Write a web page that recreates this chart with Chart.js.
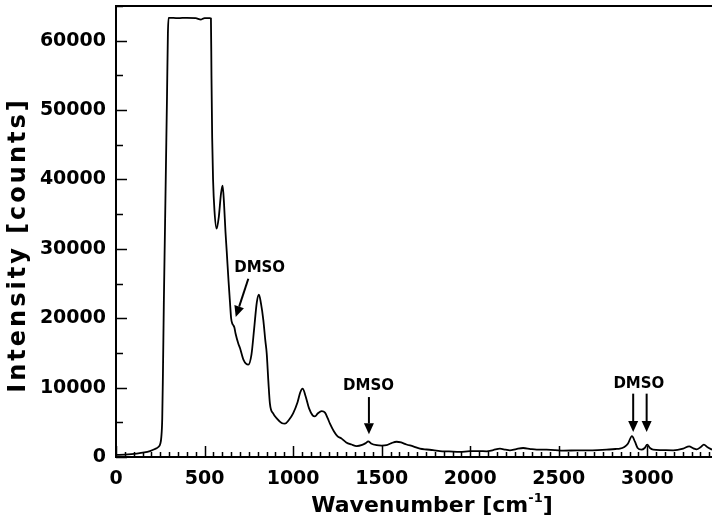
<!DOCTYPE html>
<html>
<head>
<meta charset="utf-8">
<script src="https://cdn.jsdelivr.net/npm/chart.js@4"></script>
<style>
  body { margin: 0; background: #fff; overflow: hidden; }
  canvas { display: block; }
</style>
</head>
<body>
<canvas id="spectrum" width="712" height="521"></canvas>
<script>
// Raman spectrum: wavenumber (cm-1) vs intensity (counts)
const wavenumber = [
  0, 50, 117, 160, 192, 220, 239, 250, 256, 261, 265, 270, 276, 282, 288, 293, 297,
  350, 400, 450, 480, 500, 530, 536, 539, 543, 548, 556, 568, 580, 593, 602, 610,
  618, 625, 635, 643, 650, 657, 662, 668, 675, 690, 700, 720, 747, 765, 780, 795,
  807, 818, 832, 843, 851, 860, 869, 888, 910, 935, 954, 975, 1000, 1025, 1040,
  1054, 1070, 1090, 1110, 1123, 1140, 1161, 1180, 1195, 1208, 1230, 1250, 1274,
  1300, 1330, 1359, 1390, 1410, 1424, 1440, 1472, 1500, 1528, 1555, 1584, 1610,
  1640, 1678, 1716, 1754, 1790, 1829, 1880, 1942, 1998, 2050, 2092, 2130, 2168,
  2200, 2224, 2260, 2299, 2340, 2375, 2431, 2480, 2525, 2600, 2657, 2720, 2770,
  2820, 2845, 2870, 2890, 2913, 2930, 2945, 2967, 2985, 2999, 3015, 3033, 3080,
  3146, 3202, 3236, 3260, 3278, 3300, 3319, 3340, 3365
];
const intensity = [
  300, 350, 490, 650, 860, 1150, 1440, 1900, 2900, 5500, 12000, 22000, 32000, 42000, 52000, 61000, 63300,
  63250, 63300, 63250, 63050, 63250, 63250, 63200, 55000, 46000, 40000, 35500, 32900, 34500, 38000, 39100, 36500,
  32500, 29700, 25500, 22500, 20000, 19200, 19000, 18700, 17800, 16400, 15700, 14000, 13300, 14800, 18500, 22300,
  23400, 22200, 19700, 16800, 14900, 11000, 7700, 6250, 5500, 4900, 4800, 5300, 6300, 7900, 9300,
  9850, 8800, 7000, 6000, 5860, 6300, 6600, 6400, 5600, 4800, 3700, 3000, 2650,
  2100, 1800, 1580, 1750, 2000, 2260, 1950, 1700, 1650, 1700, 2000, 2200, 2100,
  1800, 1540, 1200, 1080, 1000, 850, 800, 730, 850, 850, 820, 1000, 1200,
  1050, 960, 1150, 1300, 1150, 1060, 1050, 1000, 920, 950, 960, 1000, 1060,
  1150, 1200, 1450, 1900, 3000, 2200, 1300, 1060, 1300, 1790, 1300, 1060, 1000,
  960, 1200, 1540, 1250, 1100, 1400, 1790, 1400, 1060
];

// axis ranges and tick labels
const xMax = 3365;
const yMax = 65000;
const xTickValues = [0, 500, 1000, 1500, 2000, 2500, 3000];
const yTickValues = [0, 10000, 20000, 30000, 40000, 50000, 60000];
const xMajorStep = 500, xMinorStep = 50;
const yMajorStep = 10000, yMinorStep = 5000;

// DMSO band labels and arrows, in data coordinates
const dmsoLabels = [[811, 27250], [1426, 10250], [2952, 10540]];
const dmsoArrows = [
  [[747, 25690], [676, 20160]],
  [[1428, 8640], [1428, 3270]],
  [[2920, 9130], [2920, 3600]],
  [[2996, 9130], [2996, 3600]]
];

// inward tick marks, top border line, axis titles
const axisDecor = {
  id: 'axisDecor',
  afterDraw(chart) {
    const ctx = chart.ctx;
    const xs = chart.scales.x, ys = chart.scales.y;
    const area = chart.chartArea;
    ctx.save();
    ctx.strokeStyle = '#000';
    ctx.lineWidth = 1.5;
    ctx.beginPath();
    for (let v = 0; v <= xMax; v += xMinorStep) {
      const px = Math.round(xs.getPixelForValue(v)) + 0.5;
      const len = v % xMajorStep === 0 ? 11 : 5;
      ctx.moveTo(px, area.bottom);
      ctx.lineTo(px, area.bottom - len);
    }
    for (let v = 0; v <= yMax; v += yMinorStep) {
      const py = Math.round(ys.getPixelForValue(v)) + 0.5;
      const len = v % yMajorStep === 0 ? 11 : 7;
      ctx.moveTo(area.left, py);
      ctx.lineTo(area.left + len, py);
    }
    ctx.stroke();

    // top frame line
    ctx.lineWidth = 2;
    ctx.beginPath();
    ctx.moveTo(area.left, area.top);
    ctx.lineTo(area.right, area.top);
    ctx.stroke();

    ctx.fillStyle = '#000';

    // y axis title
    ctx.save();
    ctx.translate(19, 245);
    ctx.rotate(-Math.PI / 2);
    ctx.font = 'bold 24px "DejaVu Sans"';
    ctx.letterSpacing = '3px';
    ctx.textAlign = 'center';
    ctx.textBaseline = 'middle';
    ctx.fillText('Intensity [counts]', 0, 0);
    ctx.restore();

    // x axis title: Wavenumber [cm^-1]
    ctx.textBaseline = 'alphabetic';
    ctx.textAlign = 'left';
    const big = 'bold 22px "DejaVu Sans"';
    const small = 'bold 13px "DejaVu Sans"';
    const p1 = 'Wavenumber [cm', p2 = '-1', p3 = ']';
    ctx.font = big;
    const w1 = ctx.measureText(p1).width, w3 = ctx.measureText(p3).width;
    ctx.font = small;
    const w2 = ctx.measureText(p2).width;
    let tx = 432 - (w1 + w2 + w3) / 2;
    const ty = 512;
    ctx.font = big;
    ctx.fillText(p1, tx, ty);
    tx += w1;
    ctx.font = small;
    ctx.fillText(p2, tx, ty - 10);
    tx += w2;
    ctx.font = big;
    ctx.fillText(p3, tx, ty);
    ctx.restore();
  }
};

// DMSO annotations
const dmsoMarks = {
  id: 'dmsoMarks',
  afterDatasetsDraw(chart) {
    const ctx = chart.ctx;
    const xs = chart.scales.x, ys = chart.scales.y;
    ctx.save();
    ctx.fillStyle = '#000';
    ctx.strokeStyle = '#000';
    ctx.font = 'bold 15px "DejaVu Sans"';
    ctx.textAlign = 'center';
    ctx.textBaseline = 'middle';
    dmsoLabels.forEach(([x, y]) => {
      ctx.fillText('DMSO', xs.getPixelForValue(x), ys.getPixelForValue(y));
    });
    dmsoArrows.forEach(([from, to]) => {
      const x1 = xs.getPixelForValue(from[0]), y1 = ys.getPixelForValue(from[1]);
      const x2 = xs.getPixelForValue(to[0]), y2 = ys.getPixelForValue(to[1]);
      const ang = Math.atan2(y2 - y1, x2 - x1);
      const head = 11, half = 5;
      const bx = x2 - head * Math.cos(ang), by = y2 - head * Math.sin(ang);
      ctx.lineWidth = 2;
      ctx.beginPath();
      ctx.moveTo(x1, y1);
      ctx.lineTo(bx, by);
      ctx.stroke();
      ctx.beginPath();
      ctx.moveTo(x2, y2);
      ctx.lineTo(bx + half * Math.sin(ang), by - half * Math.cos(ang));
      ctx.lineTo(bx - half * Math.sin(ang), by + half * Math.cos(ang));
      ctx.closePath();
      ctx.fill();
    });
    ctx.restore();
  }
};

const points = wavenumber.map((x, i) => ({ x: x, y: intensity[i] }));
const tickFont = { family: 'DejaVu Sans', size: 19, weight: 'bold' };

new Chart(document.getElementById('spectrum'), {
  type: 'line',
  data: {
    datasets: [{
      data: points,
      borderColor: '#000',
      borderWidth: 1.8,
      pointRadius: 0,
      fill: false,
      cubicInterpolationMode: 'monotone'
    }]
  },
  options: {
    responsive: false,
    animation: false,
    layout: { padding: { top: 6, right: 0, left: 0, bottom: 0 } },
    plugins: {
      legend: { display: false },
      tooltip: { enabled: false }
    },
    scales: {
      x: {
        type: 'linear',
        min: 0,
        max: xMax,
        grid: { display: false, drawTicks: false },
        border: { display: true, color: '#000', width: 2 },
        ticks: {
          color: '#000',
          font: tickFont,
          padding: 11,
          maxRotation: 0,
          autoSkip: false,
          callback: v => String(v)
        },
        afterBuildTicks(scale) { scale.ticks = xTickValues.map(v => ({ value: v })); },
        afterFit(scale) {
          scale.height = 64;
          scale.paddingLeft = 0;
          scale.paddingRight = 0;
        }
      },
      y: {
        min: 0,
        max: yMax,
        grid: { display: false, drawTicks: false },
        border: { display: true, color: '#000', width: 2 },
        ticks: {
          color: '#000',
          font: tickFont,
          padding: 10,
          autoSkip: false,
          callback: v => String(v)
        },
        afterBuildTicks(scale) { scale.ticks = yTickValues.map(v => ({ value: v })); },
        afterFit(scale) {
          scale.width = 116;
          scale.paddingTop = 0;
          scale.paddingBottom = 0;
        }
      }
    }
  },
  plugins: [axisDecor, dmsoMarks]
});
</script>
</body>
</html>
